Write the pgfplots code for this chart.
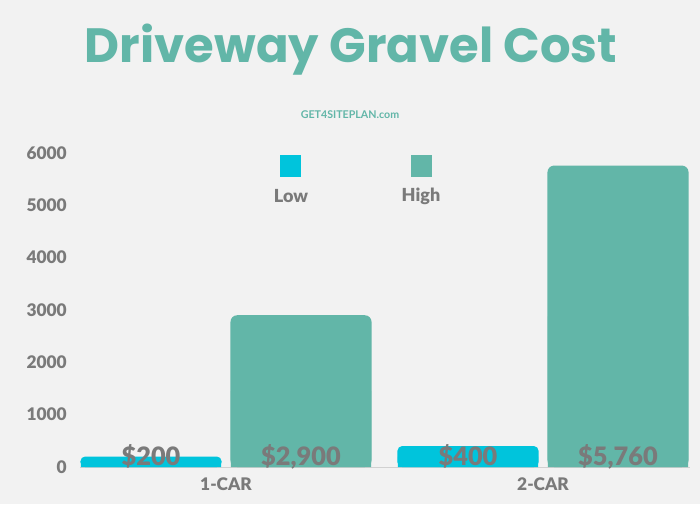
\documentclass[border=0pt]{standalone}
\usepackage{pgfplots}
\pgfplotsset{compat=1.18}
\usepackage{fontspec}
\setmainfont{Lato}
\newfontfamily\heavy{Lato Black}
\newfontfamily\titlefont{Poppins}
\definecolor{teal1}{HTML}{62B6A8}
\definecolor{cyan1}{HTML}{00C4DC}
\definecolor{txt}{HTML}{7A7A7A}
\definecolor{bg}{HTML}{F2F2F2}
\begin{document}
\begin{tikzpicture}
\fill[bg] (0pt,0pt) rectangle (525pt,378pt);
\node[anchor=base, text=teal1, inner sep=0pt] at (263.25pt,330.75pt) {\resizebox{399pt}{!}{\titlefont\bfseries Driveway Gravel Cost}};
\node[text=teal1, font=\fontsize{8}{8}\selectfont\bfseries, inner sep=0pt] at (262.5pt,291.75pt) {GET4SITEPLAN.com};
\fill[cyan1] (210pt,245.25pt) rectangle (225.75pt,261.75pt);
\node[text=txt, font=\fontsize{13.5}{13.5}\selectfont\heavy] at (218.25pt,231pt) {Low};
\fill[teal1] (308.25pt,245.25pt) rectangle (324pt,261.75pt);
\node[text=txt, font=\fontsize{13.5}{13.5}\selectfont\heavy] at (315.75pt,231pt) {High};
\begin{axis}[at={(60pt,27.75pt)}, anchor=south west, scale only axis,
  width=457.5pt, height=235.5pt,
  xmin=-0.4606, xmax=1.4637, ymin=0, ymax=6000,
  clip=false,
  axis lines=left, axis line style={-},
  y axis line style={draw=none},
  x axis line style={draw=black!18},
  major tick length=0pt,
  xtick={0,1}, xticklabels={1-CAR,2-CAR},
  ytick={0,1000,...,6000},
  ymajorgrids, grid style={black!5},
  /pgf/number format/1000 sep={},
  /pgf/number format/assume math mode=true,
  yticklabel style={font=\fontsize{13}{13}\selectfont\heavy, text=txt, inner sep=0pt, anchor=east, xshift=-9.75pt},
  xticklabel style={font=\fontsize{13}{13}\selectfont\heavy, text=txt, inner sep=0pt, anchor=north, yshift=-8pt},
]
\addplot[ybar, fill=cyan1, draw=none, bar width=0.445, bar shift=-0.2366, rounded corners=3.5pt] coordinates {(0,200) (1,400)};
\addplot[ybar, fill=teal1, draw=none, bar width=0.445, bar shift=0.2366, rounded corners=5pt] coordinates {(0,2900) (1,5760)};
% square off the bottom corners of the rounded bars
\addplot[ybar, fill=cyan1, draw=none, bar width=0.442, bar shift=-0.2366, forget plot] coordinates {(0,110) (1,200)};
\addplot[ybar, fill=teal1, draw=none, bar width=0.442, bar shift=0.2366, forget plot] coordinates {(0,1450) (1,2880)};
\addplot[draw=none, forget plot, nodes near coords, point meta=explicit symbolic,
  nodes near coords style={anchor=base, font=\fontsize{19}{19}\selectfont\heavy, text=txt, inner sep=0pt, yshift=1pt}]
  coordinates {(-0.2366,0) [{\$200}] (0.2366,0) [{\$2,900}] (0.7634,0) [{\$400}] (1.2366,0) [{\$5,760}]};
\end{axis}
\end{tikzpicture}
\end{document}
